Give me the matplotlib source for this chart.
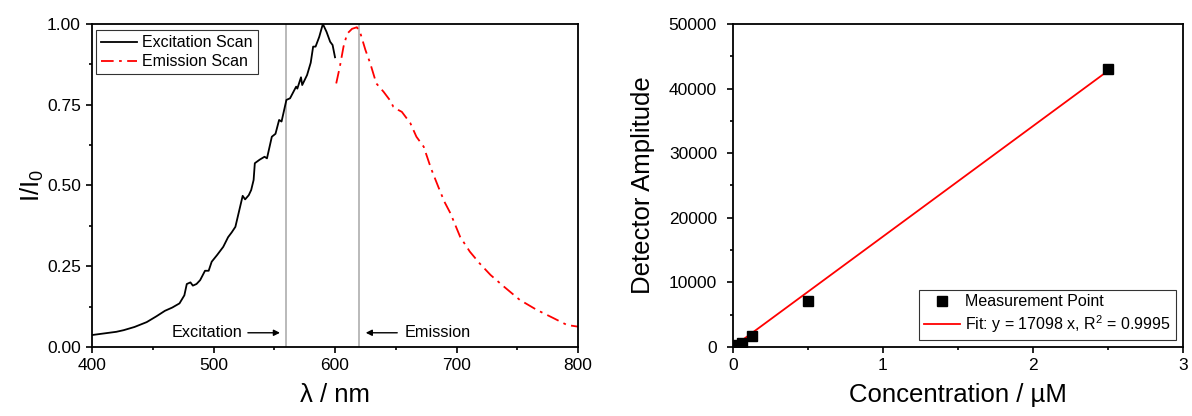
import matplotlib
matplotlib.use("Agg")
import matplotlib.pyplot as plt
import numpy as np

plt.rcParams['font.family'] = ['Liberation Sans', 'DejaVu Sans']
plt.rcParams['mathtext.fontset'] = 'custom'
plt.rcParams['mathtext.rm'] = 'Liberation Sans'
plt.rcParams['mathtext.it'] = 'Liberation Sans'

# ---------------------- data ----------------------
exc_wl = [400, 410, 420, 426, 435, 445, 453, 460, 466, 472, 476, 478, 481, 483, 486, 489,
          493, 496, 498.5, 503, 508, 512, 515, 518, 521, 524, 526, 529, 531, 533, 534,
          538, 542, 544, 548, 551, 554, 556, 560, 563, 568, 569, 572, 573, 577, 580,
          582, 584, 587, 590, 593, 596, 598, 600]
exc_int = [0.037, 0.042, 0.047, 0.052, 0.062, 0.077, 0.095, 0.112, 0.122, 0.135, 0.16, 0.195,
           0.20, 0.19, 0.195, 0.207, 0.236, 0.236, 0.264, 0.285, 0.31, 0.34, 0.355, 0.372,
           0.42, 0.468, 0.457, 0.47, 0.486, 0.517, 0.569, 0.58, 0.589, 0.584, 0.651, 0.66,
           0.703, 0.698, 0.765, 0.77, 0.806, 0.80, 0.835, 0.811, 0.842, 0.88, 0.93, 0.93,
           0.96, 1.0, 0.976, 0.945, 0.935, 0.897]

em_wl = [601, 604, 607, 610, 614, 618, 621, 625, 629, 634, 640, 645, 648, 652, 655, 662,
         667, 673, 679, 685, 690, 695, 703, 711, 719, 728, 739, 752, 766, 780, 791, 800]
em_int = [0.816, 0.868, 0.93, 0.97, 0.985, 0.99, 0.97, 0.92, 0.878, 0.816, 0.79, 0.765,
          0.744, 0.734, 0.728, 0.693, 0.651, 0.62, 0.553, 0.496, 0.45, 0.414, 0.341, 0.295,
          0.259, 0.223, 0.187, 0.146, 0.115, 0.089, 0.068, 0.063]

exc_line = 560
em_line = 620

conc = [0.03125, 0.0625, 0.125, 0.5, 2.5]
amp = [300, 600, 1700, 7170, 43000]
slope = 17098
fit_x = [0, 2.5]

# ---------------------- figure ----------------------
fig = plt.figure(figsize=(11.92, 4.16), dpi=100)
ax1 = fig.add_axes([0.0772, 0.1659, 0.4077, 0.7764])
ax2 = fig.add_axes([0.6149, 0.1659, 0.3775, 0.7764])

for ax in (ax1, ax2):
    for s in ax.spines.values():
        s.set_linewidth(1.3)
    ax.tick_params(which='both', direction='out', top=False, right=False, labelsize=12.5, width=1.2)
    ax.tick_params(which='major', length=4.5)
    ax.tick_params(which='minor', length=2.5)
ax2.tick_params(axis='y', which='major', pad=7)

leg_kw = dict(fontsize=11.5, frameon=True, fancybox=False, borderpad=0.3, handlelength=2.25,
              handletextpad=0.35, labelspacing=0.25)

# left: spectra
ax1.axvline(exc_line, color='#b4b4b4', lw=1.3, zorder=1)
ax1.axvline(em_line, color='#b4b4b4', lw=1.3, zorder=1)
ax1.plot(exc_wl, exc_int, color='black', lw=1.3, label='Excitation Scan')
ax1.plot(em_wl, em_int, color='red', lw=1.3, ls=(0, (7, 3, 1.5, 3)), label='Emission Scan')
ax1.set_xlim(400, 800)
ax1.set_ylim(0, 1)
ax1.set_xticks([400, 500, 600, 700, 800])
ax1.set_xticks(np.arange(450, 800, 100), minor=True)
ax1.set_yticks([0, 0.25, 0.5, 0.75, 1.0])
ax1.set_yticks([0.125, 0.375, 0.625, 0.875], minor=True)
ax1.yaxis.set_major_formatter(plt.FormatStrFormatter('%.2f'))
ax1.set_xlabel('λ / nm', fontsize=18.5, labelpad=7)
ax1.set_ylabel(r'I/I$_\mathregular{0}$', fontsize=18.5, labelpad=1)
leg1 = ax1.legend(loc='upper left', bbox_to_anchor=(0.008, 0.98), borderaxespad=0, **leg_kw)
leg1.get_frame().set_edgecolor('black')
leg1.get_frame().set_linewidth(0.8)

ax1.annotate('', xy=(557, 0.044), xytext=(526, 0.044),
             arrowprops=dict(arrowstyle='-|>', color='black', lw=1, mutation_scale=9))
ax1.text(523.5, 0.044, 'Excitation', ha='right', va='center', fontsize=11.7)
ax1.annotate('', xy=(623, 0.044), xytext=(653.5, 0.044),
             arrowprops=dict(arrowstyle='-|>', color='black', lw=1, mutation_scale=9))
ax1.text(657.5, 0.044, 'Emission', ha='left', va='center', fontsize=11.7)

# right: calibration
ax2.plot(conc, amp, 's', color='black', ms=7, label='Measurement Point', zorder=3)
ax2.plot(fit_x, [slope * v for v in fit_x], color='red', lw=1.3,
         label=r'Fit: y = 17098 x, R$^\mathregular{2}$ = 0.9995', zorder=2)
ax2.set_xlim(0, 3)
ax2.set_ylim(0, 50000)
ax2.set_xticks([0, 1, 2, 3])
ax2.set_xticks([0.5, 1.5, 2.5], minor=True)
ax2.set_yticks(np.arange(0, 50001, 10000))
ax2.set_yticks(np.arange(5000, 50000, 10000), minor=True)
ax2.set_xlabel('Concentration / µM', fontsize=18.5, labelpad=7)
ax2.set_ylabel('Detector Amplitude', fontsize=18.5, labelpad=10)
leg2 = ax2.legend(loc='lower right', borderaxespad=0.45, **leg_kw)
leg2.get_frame().set_edgecolor('black')
leg2.get_frame().set_linewidth(0.8)

fig.savefig('out.png', dpi=100)
